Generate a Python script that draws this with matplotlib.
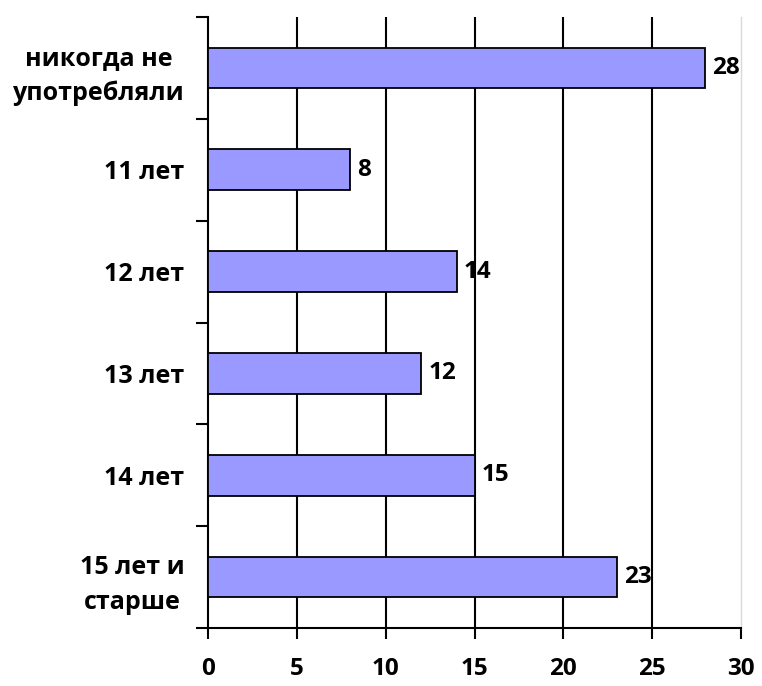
import numpy as np
import matplotlib
matplotlib.use("Agg")
import matplotlib.pyplot as plt

# Data
categories = ["никогда не\nупотребляли", "11 лет", "12 лет", "13 лет", "14 лет", "15 лет и\nстарше"]
values = [28, 8, 14, 12, 15, 23]
x_ticks = [0, 5, 10, 15, 20, 25, 30]

plt.rcParams['font.family'] = ['Open Sans', 'DejaVu Sans']
plt.rcParams['font.weight'] = 'bold'

fig = plt.figure(figsize=(7.62, 6.86), dpi=100)
ax = fig.add_axes([208 / 762, 1 - 628 / 686, (741 - 208) / 762, (628 - 17) / 686])

y = np.arange(len(categories))
bars = ax.barh(y, values, height=0.4, color='#9999ff', edgecolor='black', linewidth=1.3, zorder=3)

# value labels
for yi, v in zip(y, values):
    ax.annotate(str(v), (v, yi), xytext=(5, 0), textcoords='offset points',
                ha='left', va='center', fontsize=17.5, fontweight='bold', zorder=4)

ax.set_xlim(0, 30)
ax.set_ylim(len(categories) - 0.5, -0.5)

# vertical gridlines
for xv in x_ticks[1:-1]:
    ax.axvline(xv, color='black', lw=1.5, zorder=1)

ax.set_xticks(x_ticks)
ax.set_xticklabels([str(t) for t in x_ticks], fontsize=17.5, fontweight='bold')
ax.tick_params(axis='x', direction='out', length=8, width=1.5, pad=13)

ax.set_yticks(y)
ax.set_yticklabels(categories, fontsize=18, fontweight='bold', multialignment='center',
                   linespacing=1.5)
ax.tick_params(axis='y', which='major', length=0, pad=17)
ax.set_yticks(np.arange(-0.5, len(categories)), minor=True)
ax.tick_params(axis='y', which='minor', direction='out', length=9, width=1.5)

for s in ['left', 'bottom']:
    ax.spines[s].set_linewidth(1.5)
ax.spines['top'].set_visible(False)
ax.spines['right'].set_color('#d9d9d9')
ax.spines['right'].set_linewidth(1.0)

fig.savefig('out.png', dpi=100)
